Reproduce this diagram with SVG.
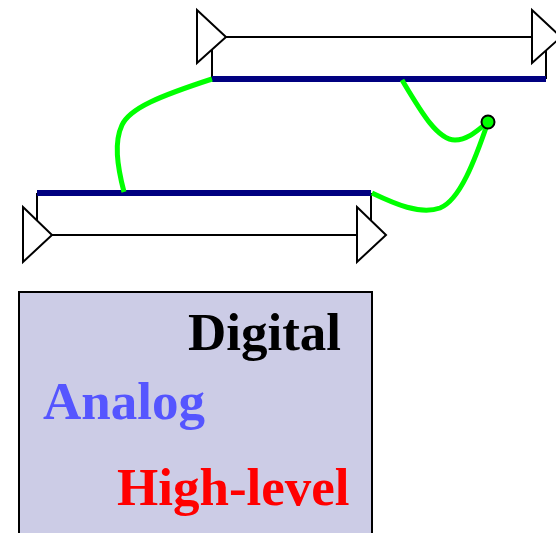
<svg xmlns="http://www.w3.org/2000/svg" width="556" height="533" viewBox="0 0 556 533">
<style>
.tri{fill:#fff;stroke:#000;stroke-width:2;stroke-linejoin:miter}
.ln{stroke:#000;stroke-width:2;fill:none}
.bar{stroke:#000080;stroke-width:6;fill:none}
.wire{stroke:#00ff00;stroke-width:5;fill:none;stroke-linecap:butt}
.lbl{font-family:"Liberation Serif","Times New Roman",serif;font-weight:bold;font-size:53px}
</style>
<rect width="556" height="533" fill="#fff"/>
<g id="top-element">
<line class="ln" x1="212" y1="48" x2="212" y2="79"/>
<line class="ln" x1="546" y1="48" x2="546" y2="79"/>
<line class="ln" x1="226" y1="37" x2="532" y2="37"/>
<polygon class="tri" points="197,10 226,37 197,63"/>
<polygon class="tri" points="532,10 561,37 532,63"/>
<line class="bar" x1="212" y1="79" x2="546" y2="79"/>
</g>
<g id="bottom-element">
<line class="ln" x1="37" y1="193" x2="37" y2="222"/>
<line class="ln" x1="371" y1="193" x2="371" y2="220"/>
<line class="ln" x1="52" y1="235" x2="357" y2="235"/>
<polygon class="tri" points="23,207 52,235 23,262"/>
<polygon class="tri" points="357,207 386,235 357,262"/>
<line class="bar" x1="37" y1="193" x2="371" y2="193"/>
</g>
<g id="connectors">
<path class="wire" d="M212,79 C160,96 130,108 122,125 C114,142 117,165 124,192"/>
<path class="wire" d="M402,80 C420,110 437,140 455,140 C468,140 478,130 488,122"/>
<path class="wire" d="M372,193 C395,204 420,215 440,208 C460,200 475,160 488,122"/>
</g>
<g id="junction">
<circle cx="488" cy="122" r="6.5" fill="#00ff00" stroke="#000" stroke-width="2"/>
</g>
<g id="legend">
<rect x="19" y="292" width="353" height="260" fill="#ccccE6" stroke="#000" stroke-width="2"/>
<text class="lbl" x="188" y="350" fill="#000">Digital</text>
<text class="lbl" x="43" y="419" fill="#5555ff">Analog</text>
<text class="lbl" x="117" y="505" fill="#ff0000">High-level</text>
</g>
</svg>
